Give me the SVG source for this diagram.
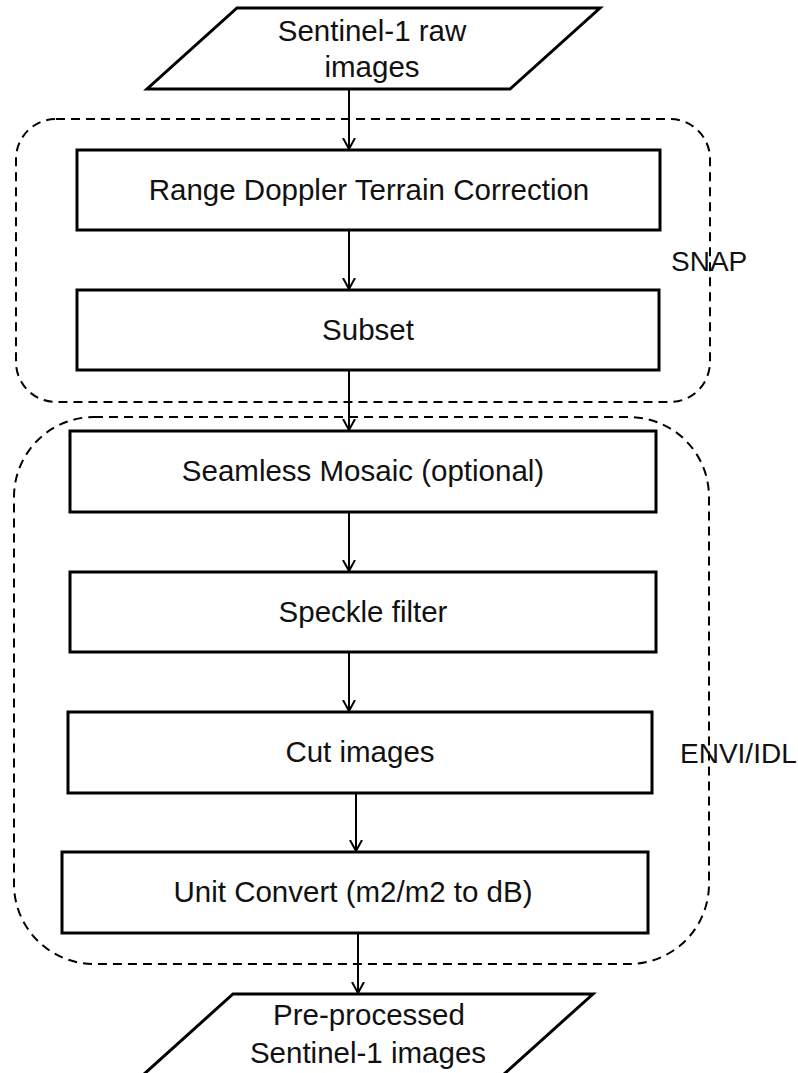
<svg xmlns="http://www.w3.org/2000/svg" width="798" height="1073" viewBox="0 0 798 1073">
<style>
.bg{fill:#fff}
.box{fill:#fff;stroke:#000;stroke-width:3}
.grp{fill:none;stroke:#000;stroke-width:2;stroke-dasharray:9 6}
.lbl{font-family:"Liberation Sans",Arial,sans-serif;font-size:29.5px;fill:#111;text-anchor:middle}
.side{font-family:"Liberation Sans",Arial,sans-serif;font-size:28px;fill:#111}
.conn{stroke:#000;stroke-width:2;fill:none;marker-end:url(#arr)}
</style>
<defs>
<marker id="arr" viewBox="0 0 12 14" refX="11" refY="7" markerWidth="12" markerHeight="14" markerUnits="userSpaceOnUse" orient="auto">
<path d="M0,1 L11,7 L0,13" fill="none" stroke="#000" stroke-width="2"/>
</marker>
</defs>
<rect class="bg" x="0" y="0" width="798" height="1073"/>
<g id="groups">
<rect id="snap-group" class="grp" x="16" y="119" width="694" height="283" rx="40" ry="40"/>
<rect id="envi-group" class="grp" x="14" y="417" width="695" height="547" rx="80" ry="80"/>
</g>
<g id="input">
<polygon class="box" points="237,8 600,8 510,89 147,89"/>
<text class="lbl" x="372" y="41">Sentinel-1 raw</text>
<text class="lbl" x="372" y="77">images</text>
</g>
<g id="rdtc">
<rect class="box" x="77" y="150" width="583" height="80"/>
<text class="lbl" x="369" y="200">Range Doppler Terrain Correction</text>
</g>
<g id="subset">
<rect class="box" x="77" y="290" width="582" height="80"/>
<text class="lbl" x="368" y="340">Subset</text>
</g>
<g id="mosaic">
<rect class="box" x="70" y="431" width="586" height="81"/>
<text class="lbl" x="363" y="481">Seamless Mosaic (optional)</text>
</g>
<g id="speckle">
<rect class="box" x="70" y="572" width="586" height="80"/>
<text class="lbl" x="363" y="622">Speckle filter</text>
</g>
<g id="cut">
<rect class="box" x="68" y="712" width="584" height="81"/>
<text class="lbl" x="360" y="762">Cut images</text>
</g>
<g id="unit">
<rect class="box" x="62" y="852" width="586" height="81"/>
<text class="lbl" x="353" y="902">Unit Convert (m2/m2 to dB)</text>
</g>
<g id="output">
<polygon class="box" points="233,994 593,994 503,1075 143,1075"/>
<text class="lbl" x="369" y="1025">Pre-processed</text>
<text class="lbl" x="368" y="1063">Sentinel-1 images</text>
</g>
<g id="labels">
<text id="snap-label" class="side" x="671" y="271">SNAP</text>
<text id="envi-label" class="side" x="680" y="763">ENVI/IDL</text>
</g>
<g id="connectors">
<line class="conn" x1="349" y1="89" x2="349" y2="149"/>
<line class="conn" x1="349" y1="230" x2="349" y2="289"/>
<line class="conn" x1="349" y1="370" x2="349" y2="430"/>
<line class="conn" x1="349" y1="512" x2="349" y2="571"/>
<line class="conn" x1="349" y1="652" x2="349" y2="711"/>
<line class="conn" x1="356" y1="793" x2="356" y2="851"/>
<line class="conn" x1="358" y1="933" x2="358" y2="993"/>
</g>
</svg>
